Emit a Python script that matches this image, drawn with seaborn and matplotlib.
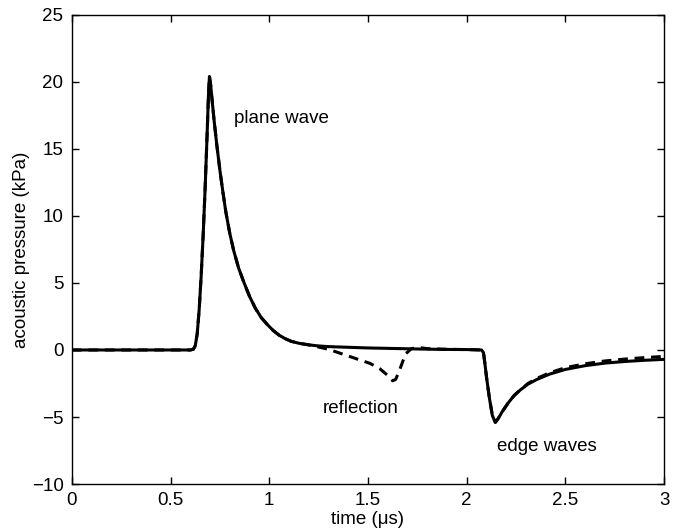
import matplotlib
matplotlib.use("Agg")
import matplotlib.pyplot as plt
import seaborn as sns
import pandas as pd

# --- data ---
# time in microseconds, pressure in kPa
# plane wave pulse, shared by both curves
t_pulse = [0.00, 0.60, 0.615, 0.625, 0.635, 0.645, 0.655, 0.665, 0.675, 0.685,
           0.692, 0.697, 0.703, 0.71, 0.72, 0.735, 0.75, 0.765, 0.78, 0.80,
           0.82, 0.845, 0.87, 0.90, 0.93, 0.96, 0.99, 1.02, 1.05, 1.08,
           1.11, 1.15, 1.20]
p_pulse = [0.0, 0.0, 0.05, 0.3, 1.2, 3.0, 5.5, 8.5, 12.0, 16.0,
           19.0, 20.4, 19.8, 18.7, 17.2, 15.2, 13.4, 11.8, 10.3, 8.7,
           7.4, 6.1, 5.1, 4.0, 3.1, 2.4, 1.9, 1.45, 1.1, 0.85,
           0.65, 0.5, 0.38]

# tail + edge waves, solid curve
t_direct = [1.25, 1.30, 1.40, 1.50, 1.60, 1.70, 1.80, 1.90, 2.00, 2.075,
            2.085, 2.092, 2.10, 2.115, 2.13, 2.145, 2.16, 2.18, 2.21, 2.24,
            2.27, 2.31, 2.355, 2.42, 2.50, 2.60, 2.70, 2.80, 2.90, 3.00]
p_direct = [0.3, 0.25, 0.2, 0.15, 0.12, 0.09, 0.06, 0.04, 0.03, 0.0,
            -0.2, -1.0, -2.0, -3.6, -4.9, -5.4, -5.1, -4.6, -3.95, -3.4,
            -3.0, -2.55, -2.2, -1.8, -1.45, -1.17, -0.98, -0.86, -0.77, -0.70]

# tail + reflection dip + edge waves, dashed curve
t_refl = [1.25, 1.30, 1.34, 1.40, 1.45, 1.51, 1.56, 1.60, 1.625, 1.64,
          1.66, 1.69, 1.72, 1.76, 1.80, 1.90, 2.00, 2.075, 2.085, 2.092,
          2.10, 2.115, 2.13, 2.145, 2.16, 2.18, 2.21, 2.24, 2.27, 2.31,
          2.355, 2.42, 2.50, 2.60, 2.70, 2.80, 2.90, 3.00]
p_refl = [0.22, 0.05, -0.15, -0.45, -0.7, -1.0, -1.4, -1.9, -2.3, -2.2,
          -1.5, -0.3, 0.1, 0.18, 0.1, 0.05, 0.03, 0.0, -0.2, -1.0,
          -2.0, -3.6, -4.9, -5.4, -5.1, -4.6, -3.95, -3.4, -3.0, -2.5,
          -2.12, -1.7, -1.32, -1.03, -0.82, -0.68, -0.57, -0.48]

labels = ["plane wave", "reflection", "edge waves"]
label_t = [0.82, 1.27, 2.155]
label_p = [17.3, -4.4, -7.2]


def main():
    sns.set_style("ticks")
    plt.rcParams["font.family"] = ["Liberation Sans", "DejaVu Sans"]
    plt.rcParams["font.size"] = 13.5
    plt.rcParams["text.color"] = "black"
    plt.rcParams["axes.labelcolor"] = "black"

    fig = plt.figure(figsize=(6.84, 5.29), dpi=100)
    ax = fig.add_axes([0.105, 0.085, 0.866, 0.887])

    df_a = pd.DataFrame({"t": t_pulse + t_direct, "p": p_pulse + p_direct})
    df_b = pd.DataFrame({"t": t_pulse + t_refl, "p": p_pulse + p_refl})

    # reflection (dashed) under, direct (solid) on top
    sns.lineplot(data=df_b, x="t", y="p", ax=ax, color="black",
                 linewidth=2.2, linestyle=(0, (3.2, 2.2)), estimator=None,
                 sort=False)
    sns.lineplot(data=df_a, x="t", y="p", ax=ax, color="black",
                 linewidth=2.2, estimator=None, sort=False)

    for txt, x, y in zip(labels, label_t, label_p):
        ax.text(x, y, txt, ha="left", va="center", fontsize=13.5, color="black")

    ax.set_xlim(0, 3)
    ax.set_ylim(-10, 25)
    ax.set_xticks([0, 0.5, 1, 1.5, 2, 2.5, 3])
    ax.set_xticklabels(["0", "0.5", "1", "1.5", "2", "2.5", "3"])
    ax.set_yticks(range(-10, 26, 5))

    ax.set_xlabel("time (\u03bcs)", fontsize=13.5, labelpad=1)
    ax.set_ylabel("acoustic pressure (kPa)", fontsize=13.5, labelpad=1)

    for side in ax.spines.values():
        side.set_visible(True)
        side.set_linewidth(1.0)
        side.set_color("black")
    ax.tick_params(direction="in", length=5, width=1.0, top=True, right=True,
                   labelsize=13.5, pad=6, colors="black")

    fig.savefig("out.png", dpi=100)
    plt.close(fig)


if __name__ == "__main__":
    main()
